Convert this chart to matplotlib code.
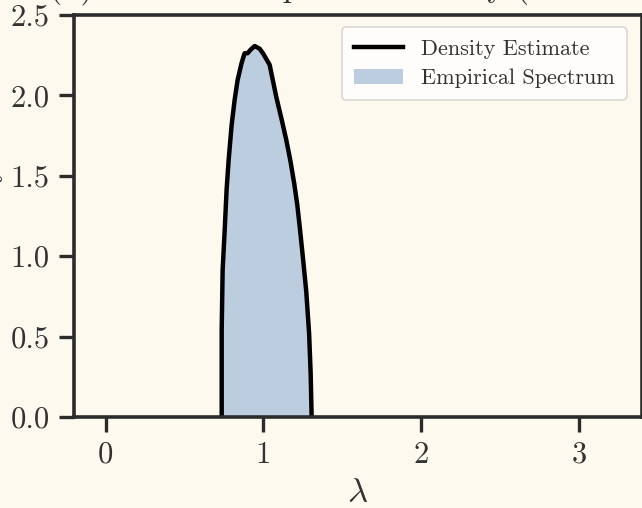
import matplotlib
matplotlib.use("Agg")
import matplotlib.pyplot as plt

# Estimated spectral density of the eigenvalues (outline points)
lam = [0.736, 0.736, 0.742, 0.755, 0.767, 0.780, 0.799, 0.818, 0.837, 0.862,
       0.881, 0.900, 0.920, 0.945, 0.977, 1.000, 1.040, 1.082, 1.116, 1.146,
       1.172, 1.196, 1.215, 1.232, 1.252, 1.272, 1.290, 1.300, 1.306]
density = [0.000, 0.541, 0.914, 1.163, 1.412, 1.598, 1.816, 1.972, 2.096, 2.201,
           2.262, 2.262, 2.285, 2.307, 2.290, 2.258, 2.190, 1.990, 1.850, 1.720,
           1.590, 1.450, 1.320, 1.170, 0.980, 0.780, 0.520, 0.270, 0.000]

x_ticks = [0, 1, 2, 3]
y_ticks = [0.0, 0.5, 1.0, 1.5, 2.0, 2.5]

bg = "#fdf9ee"
ink = "#2b2b2b"
plt.rcParams.update({
    "font.family": "serif",
    "font.serif": ["cmr10"],
    "mathtext.fontset": "cm",
    "axes.formatter.use_mathtext": True,
    "axes.unicode_minus": False,
})

fig = plt.figure(figsize=(6.42, 5.08), dpi=100, facecolor=bg)
ax = fig.add_axes([0.1153, 0.179, 0.8847, 0.7915], facecolor=bg)

ax.fill_between(lam, density, 0, color="#bdcde0", lw=0, label="Empirical Spectrum")
ax.plot(lam, density, color="black", lw=3.2, solid_joinstyle="round",
        label="Density Estimate")

ax.set_xlim(-0.2, 3.4)
ax.set_ylim(0, 2.5)
ax.set_xticks(x_ticks)
ax.set_yticks(y_ticks)
ax.set_xticklabels([str(t) for t in x_ticks])
ax.set_yticklabels([f"{t:.1f}" for t in y_ticks])

for s in ax.spines.values():
    s.set_color(ink)
    s.set_linewidth(2.6)
ax.tick_params(axis="both", colors=ink, width=2.4, length=10.5,
               labelsize=22, labelcolor="#333333", pad=7)

ax.set_xlabel(r"$\lambda$", fontsize=25, labelpad=6, color="#333333")
ax.set_ylabel("Density", fontsize=22, labelpad=6, color="#333333")
ax.set_title("(b) Estimated Spectral Density (MP Law)", fontsize=24,
             pad=13.5, color="#333333")

handles, labels = ax.get_legend_handles_labels()
order = [labels.index("Density Estimate"), labels.index("Empirical Spectrum")]
leg = ax.legend([handles[i] for i in order], [labels[i] for i in order],
                loc="upper right", fontsize=16, frameon=True, fancybox=True,
                framealpha=0.8, edgecolor="#d0d0d0", handlelength=2.2,
                handleheight=0.65, borderpad=0.55, labelspacing=0.42,
                handletextpad=0.8, bbox_to_anchor=(0.993, 0.997))
leg.get_frame().set_linewidth(1.2)
for t in leg.get_texts():
    t.set_color("#333333")

fig.savefig("out.png", dpi=100, facecolor=bg)
